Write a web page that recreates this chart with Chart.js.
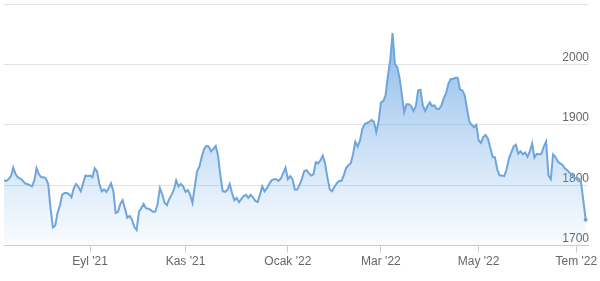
<!DOCTYPE html>
<html>
<head>
<meta charset="utf-8">
<script src="https://cdn.jsdelivr.net/npm/chart.js@4.4.1/dist/chart.umd.min.js"></script>
<style>
  html, body { margin: 0; padding: 0; background: #fff; }
  #wrap { width: 600px; height: 281px; position: relative; }
</style>
</head>
<body>
<div id="wrap"><canvas id="goldChart"></canvas></div>
<script>
// daily closing price, one value per trading day
const price = [
  1808, 1807, 1810, 1815, 1829, 1818, 1813, 1811, 1808, 1803,
  1802, 1800, 1798, 1807, 1828, 1818, 1813, 1813, 1811, 1802,
  1762, 1730, 1733, 1754, 1766, 1784, 1787, 1787, 1785, 1780,
  1795, 1802, 1797, 1790, 1803, 1816, 1815, 1816, 1813, 1828,
  1823, 1802, 1790, 1793, 1789, 1795, 1803, 1790, 1754, 1756,
  1769, 1775, 1761, 1746, 1749, 1743, 1731, 1726, 1756, 1762,
  1769, 1762, 1761, 1759, 1756, 1756, 1769, 1795, 1785, 1771,
  1767, 1777, 1784, 1792, 1808, 1798, 1802, 1798, 1789, 1792,
  1784, 1771, 1798, 1823, 1831, 1847, 1860, 1865, 1864, 1856,
  1860, 1865, 1849, 1816, 1790, 1789, 1792, 1802, 1787, 1775,
  1779, 1772, 1777, 1782, 1784, 1779, 1784, 1780, 1774, 1772,
  1784, 1798, 1790, 1795, 1802, 1808, 1810, 1810, 1807, 1811,
  1820, 1829, 1810, 1815, 1810, 1793, 1793, 1800, 1810, 1823,
  1825, 1820, 1816, 1818, 1838, 1836, 1841, 1849, 1836, 1813,
  1793, 1790, 1797, 1803, 1807, 1807, 1816, 1828, 1833, 1836,
  1851, 1872, 1864, 1874, 1893, 1901, 1903, 1905, 1908, 1905,
  1888, 1905, 1937, 1939, 1949, 1981, 2007, 2052, 2001, 1996,
  1978, 1950, 1921, 1934, 1934, 1931, 1923, 1931, 1957, 1958,
  1932, 1923, 1931, 1937, 1931, 1932, 1926, 1926, 1932, 1944,
  1952, 1968, 1976, 1976, 1978, 1978, 1958, 1957, 1949, 1927,
  1905, 1900, 1896, 1900, 1874, 1870, 1880, 1883, 1877, 1862,
  1847, 1846, 1826, 1816, 1816, 1815, 1826, 1844, 1854, 1864,
  1867, 1852, 1856, 1851, 1854, 1847, 1856, 1869, 1846, 1852,
  1851, 1852, 1864, 1872, 1816, 1810, 1851, 1847, 1839, 1836,
  1834, 1828, 1825, 1821, 1818, 1813, 1811, 1811, 1805, 1774,
  1743
];

// trading day index of the first session of each labelled month
const tickDays = [37, 78, 122, 162, 204, 246];
const tickLabels = ["Eyl '21", "Kas '21", "Ocak '22", "Mar '22", "May '22", "Tem '22"];
const yTicks = [1700, 1800, 1900, 2000, 2100];

const ctx = document.getElementById('goldChart');

function areaGradient(context) {
  const area = context.chart.chartArea;
  if (!area) return 'rgba(124,181,236,0.4)';
  const g = context.chart.ctx.createLinearGradient(0, area.top, 0, area.bottom);
  g.addColorStop(0, 'rgba(100,160,225,0.85)');
  g.addColorStop(1, 'rgba(124,181,236,0.04)');
  return g;
}

new Chart(ctx, {
  type: 'line',
  data: {
    datasets: [{
      data: price.map((v, i) => ({ x: i, y: v })),
      borderColor: '#6ea6dc',
      borderWidth: 2,
      backgroundColor: areaGradient,
      fill: 'start',
      tension: 0,
      pointRadius: c => c.dataIndex === price.length - 1 ? 2 : 0,
      pointBackgroundColor: '#6ea6dc',
      pointBorderWidth: 0
    }]
  },
  options: {
    responsive: true,
    maintainAspectRatio: false,
    animation: false,
    layout: { padding: { top: -6, right: 10, left: 0, bottom: 10 } },
    plugins: {
      legend: { display: false },
      tooltip: { enabled: false }
    },
    scales: {
      x: {
        type: 'linear',
        min: 0,
        max: 251,
        afterBuildTicks: axis => { axis.ticks = tickDays.map(v => ({ value: v })); },
        grid: {
          drawOnChartArea: false,
          drawTicks: true,
          tickLength: 7,
          color: '#cccccc'
        },
        border: { display: true, color: '#cccccc', width: 1 },
        ticks: {
          autoSkip: false,
          maxRotation: 0,
          padding: 2,
          color: '#666666',
          font: { family: 'Liberation Sans', size: 12 },
          callback: (value, index) => tickLabels[index]
        }
      },
      y: {
        position: 'right',
        min: 1700,
        max: 2100,
        afterBuildTicks: axis => { axis.ticks = yTicks.map(v => ({ value: v })); },
        afterFit: axis => { axis.paddingTop = 0; axis.paddingBottom = 0; },
        grid: { color: '#e3e3e3', lineWidth: 1, drawTicks: false },
        border: { display: false },
        ticks: {
          mirror: true,
          padding: 1,
          labelOffset: -7,
          color: '#666666',
          font: { family: 'Liberation Sans', size: 12 },
          callback: v => v === 2100 ? '' : String(v)
        }
      }
    }
  }
});
</script>
</body>
</html>
